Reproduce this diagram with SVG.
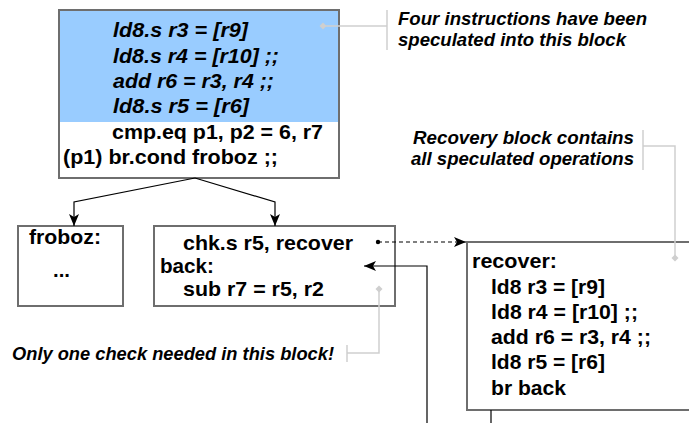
<svg xmlns="http://www.w3.org/2000/svg" width="689" height="423" viewBox="0 0 689 423">
<style>
  .box{fill:#fff;stroke:#6e6e6e;stroke-width:2}
  .code{font-family:"Liberation Sans",Arial,sans-serif;font-weight:bold;font-size:20.5px;fill:#000}
  .it{font-style:italic}
  .note{font-family:"Liberation Sans",Arial,sans-serif;font-weight:bold;font-style:italic;font-size:18px;fill:#000}
  .conn{fill:none;stroke:#000;stroke-width:1.2}
  .lead{fill:none;stroke:#cfcfcf;stroke-width:1.5}
</style>
<defs>
  <marker id="ah" viewBox="0 0 12 10" refX="12" refY="5" markerWidth="12" markerHeight="10" markerUnits="userSpaceOnUse" orient="auto">
    <path d="M0,0 L12,5 L0,10 L3,5 Z" fill="#000"/>
  </marker>
</defs>
<g id="top-block">
  <rect class="box" x="59" y="10" width="280" height="168"/>
  <rect x="60" y="11" width="278" height="111" fill="#99ccff"/>
  <text class="code it" x="113" y="37" textLength="135" lengthAdjust="spacingAndGlyphs">ld8.s  r3 = [r9]</text>
  <text class="code it" x="113" y="63" textLength="166" lengthAdjust="spacingAndGlyphs">ld8.s  r4 = [r10] ;;</text>
  <text class="code it" x="113" y="88" textLength="161" lengthAdjust="spacingAndGlyphs">add r6 = r3, r4 ;;</text>
  <text class="code it" x="113" y="113" textLength="136" lengthAdjust="spacingAndGlyphs">ld8.s  r5 = [r6]</text>
  <text class="code" x="112" y="139" textLength="211" lengthAdjust="spacingAndGlyphs">cmp.eq p1, p2 = 6, r7</text>
  <text class="code" x="63" y="164" textLength="215" lengthAdjust="spacingAndGlyphs">(p1) br.cond froboz ;;</text>
</g>
<g id="froboz-block">
  <rect class="box" x="18" y="226" width="105" height="80"/>
  <text class="code" x="29" y="244" textLength="72" lengthAdjust="spacingAndGlyphs">froboz:</text>
  <text class="code" x="53" y="277" textLength="17" lengthAdjust="spacingAndGlyphs">...</text>
</g>
<g id="check-block">
  <rect class="box" x="154" y="226" width="241" height="80"/>
  <text class="code" x="183" y="250" textLength="170" lengthAdjust="spacingAndGlyphs">chk.s r5, recover</text>
  <text class="code" x="160" y="273" textLength="54" lengthAdjust="spacingAndGlyphs">back:</text>
  <text class="code" x="183" y="296" textLength="141" lengthAdjust="spacingAndGlyphs">sub r7 = r5, r2</text>
</g>
<g id="recover-block">
  <rect class="box" x="467" y="242" width="240" height="168"/>
  <text class="code" x="472" y="268" textLength="85" lengthAdjust="spacingAndGlyphs">recover:</text>
  <text class="code" x="491" y="294" textLength="114" lengthAdjust="spacingAndGlyphs">ld8 r3 = [r9]</text>
  <text class="code" x="491" y="319" textLength="147" lengthAdjust="spacingAndGlyphs">ld8 r4 = [r10] ;;</text>
  <text class="code" x="491" y="344" textLength="160" lengthAdjust="spacingAndGlyphs">add r6 = r3, r4 ;;</text>
  <text class="code" x="491" y="369" textLength="114" lengthAdjust="spacingAndGlyphs">ld8 r5 = [r6]</text>
  <text class="code" x="491" y="395" textLength="75" lengthAdjust="spacingAndGlyphs">br back</text>
</g>
<g id="connectors">
  <polyline class="conn" points="195,178 74,202 74,226" marker-end="url(#ah)"/>
  <polyline class="conn" points="195,178 275,202 275,226" marker-end="url(#ah)"/>
  <circle cx="378" cy="242" r="2.2" fill="#000"/>
  <line class="conn" x1="378" y1="242" x2="466" y2="242" stroke-dasharray="4,3" marker-end="url(#ah)"/>
  <line class="conn" x1="491" y1="410" x2="491" y2="423"/>
  <polyline class="conn" points="427,423 427,266 364,266" marker-end="url(#ah)"/>
</g>
<g id="callout-speculated">
  <path class="lead" d="M323,26 H387 M387,10 V50"/>
  <path d="M323,22.5 L326.5,26 L323,29.5 L319.5,26 Z" fill="#cfcfcf"/>
  <text class="note" x="398" y="25" textLength="249" lengthAdjust="spacingAndGlyphs">Four instructions have been</text>
  <text class="note" x="398" y="46" textLength="228" lengthAdjust="spacingAndGlyphs">speculated into this block</text>
</g>
<g id="callout-recovery">
  <path class="lead" d="M643,130 V170 M643,146 H675 V258"/>
  <path d="M675,254.5 L678.5,258 L675,261.5 L671.5,258 Z" fill="#cfcfcf"/>
  <text class="note" x="413" y="144" textLength="221" lengthAdjust="spacingAndGlyphs">Recovery block contains</text>
  <text class="note" x="411" y="165" textLength="223" lengthAdjust="spacingAndGlyphs">all speculated operations</text>
</g>
<g id="callout-check">
  <path class="lead" d="M347,345 V362 M347,353 H379 V289"/>
  <path d="M379,285.5 L382.5,289 L379,292.5 L375.5,289 Z" fill="#cfcfcf"/>
  <text class="note" x="12" y="360" textLength="322" lengthAdjust="spacingAndGlyphs">Only one check needed in this block!</text>
</g>
</svg>
